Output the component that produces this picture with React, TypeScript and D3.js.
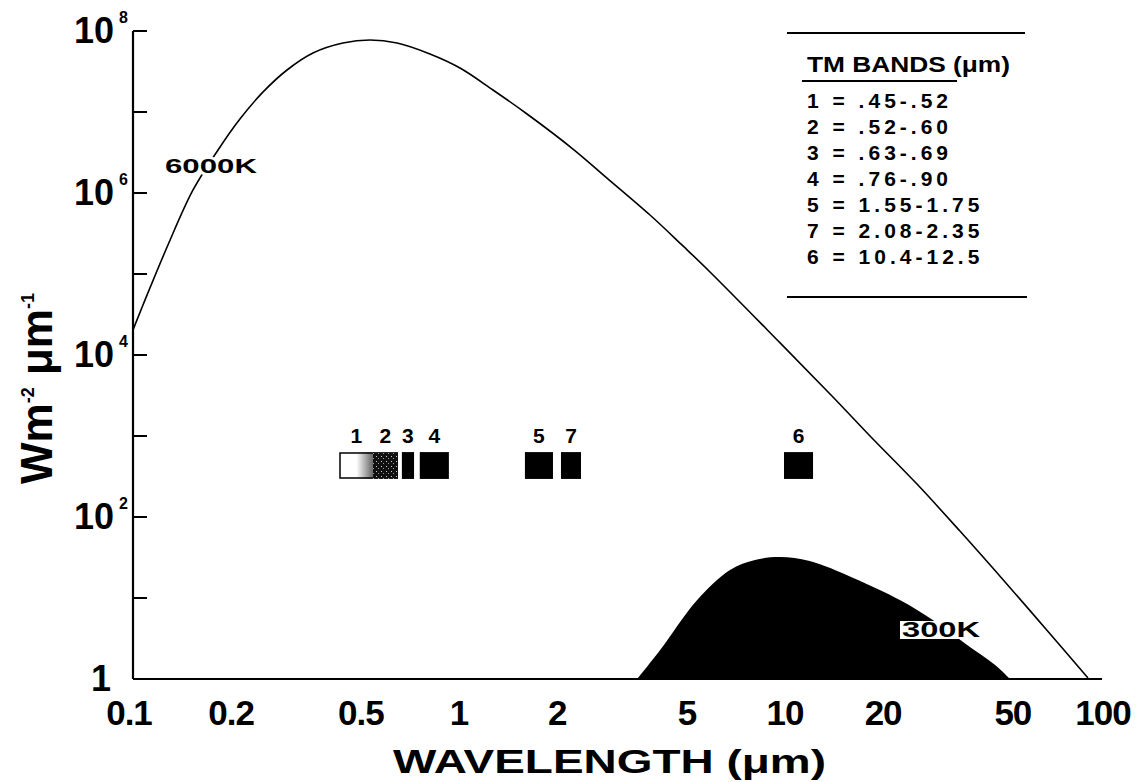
import React, { useEffect, useRef } from 'react'
import * as d3 from 'd3'

// 6000K blackbody curve (wavelength um -> W m-2 um-1)
const sunWavelength = [0.1, 0.1073, 0.128, 0.1528, 0.1823, 0.2128, 0.2507, 0.2968, 0.3565, 0.4405, 0.5333, 0.6457, 0.8146, 1.007, 1.271, 1.617, 2.237, 2.844, 3.854, 4.864, 5.888, 9.66, 14.03, 18.23, 25.4, 34.4, 47.9, 63.6, 85]
const sunRadiance = [2.04e4, 4.14e4, 2.28e5, 1.09e6, 3.4e6, 8.2e6, 1.77e7, 3.3e7, 5.35e7, 7.1e7, 7.74e7, 7.1e7, 5.2e7, 3.49e7, 1.87e7, 9.45e6, 3.49e6, 1.53e6, 5.35e5, 2.22e5, 1.06e5, 1.41e4, 3.03e3, 1.0e3, 255, 67, 14.9, 4.0, 1.03]

// 300K curve (filled)
const earthWavelength = [3.52, 4.14, 5.37, 6.78, 8.09, 9.66, 11.9, 16.2, 22.5, 28.4, 36.2, 44.1, 49]
const earthRadiance = [1, 2.28, 9.4, 22.2, 29.5, 32, 28.6, 17.7, 9.45, 5.35, 2.63, 1.49, 1]

// TM band boxes as drawn
const bandIds = ['1', '2', '3', '4', '5', '7', '6']
const bandFrom = [0.4315, 0.5443, 0.668, 0.758, 1.593, 2.055, 9.93]
const bandTo = [0.5443, 0.65, 0.728, 0.931, 1.942, 2.367, 12.19]
const bandLevel = [295, 633]

// legend
const legendBand = ['1', '2', '3', '4', '5', '7', '6']
const legendRange = ['.45-.52', '.52-.60', '.63-.69', '.76-.90', '1.55-1.75', '2.08-2.35', '10.4-12.5']

// axes
const xTicks = [0.1, 0.2, 0.5, 1, 2, 5, 10, 20, 50, 100]
const xTickText = ['0.1', '0.2', '0.5', '1', '2', '5', '10', '20', '50', '100']
const yTicks = [1, 10, 1e2, 1e3, 1e4, 1e5, 1e6, 1e7, 1e8]
const yLabels = [1, 1e2, 1e4, 1e6, 1e8]
const yLabelExp = ['', '2', '4', '6', '8']

const FONT = '"Liberation Sans", Arial, Helvetica, sans-serif'

export default function App() {
  const ref = useRef<SVGSVGElement>(null)

  useEffect(() => {
    const svg = d3.select(ref.current)
    svg.selectAll('*').remove()

    const x = d3.scaleLog().domain([0.1, 100]).range([133, 1111])
    const y = d3.scaleLog().domain([1, 1e8]).range([679, 31])

    const defs = svg.append('defs')
    const grad = defs.append('linearGradient').attr('id', 'fade')
    grad.append('stop').attr('offset', '0%').attr('stop-color', '#fff')
    grad.append('stop').attr('offset', '50%').attr('stop-color', '#fff')
    grad.append('stop').attr('offset', '100%').attr('stop-color', '#666')
    const pat = defs.append('pattern').attr('id', 'speckle')
      .attr('width', 5).attr('height', 5).attr('patternUnits', 'userSpaceOnUse')
    pat.append('rect').attr('width', 5).attr('height', 5).attr('fill', '#111')
    pat.append('rect').attr('x', 1).attr('y', 1).attr('width', 1).attr('height', 1).attr('fill', '#ccc')
    pat.append('rect').attr('x', 3).attr('y', 3).attr('width', 1).attr('height', 1).attr('fill', '#999')

    const g = svg.append('g')
      .attr('font-family', FONT)
      .attr('font-weight', 'bold')
      .attr('fill', '#000')

    // 300K filled curve
    const earth = earthWavelength.map((w, i) => [w, earthRadiance[i]])
    const area = d3.area<number[]>()
      .x(d => x(d[0]))
      .y0(y(1))
      .y1(d => y(d[1]))
      .curve(d3.curveCatmullRom.alpha(0.5))
    g.append('path').attr('d', area(earth)).attr('fill', '#000')

    // 6000K curve
    const sun = sunWavelength.map((w, i) => [w, sunRadiance[i]])
    const line = d3.line<number[]>()
      .x(d => x(d[0]))
      .y(d => y(d[1]))
      .curve(d3.curveCatmullRom.alpha(0.5))
    g.append('path').attr('d', line(sun))
      .attr('fill', 'none').attr('stroke', '#000').attr('stroke-width', 1.6)

    // axes
    g.append('line').attr('x1', 133).attr('x2', 133).attr('y1', y(1e8)).attr('y2', y(1))
      .attr('stroke', '#000').attr('stroke-width', 2.2)
    g.append('line').attr('x1', 133).attr('x2', 1102).attr('y1', y(1)).attr('y2', y(1))
      .attr('stroke', '#000').attr('stroke-width', 2.2)
    g.selectAll('.ytick').data(yTicks).enter().append('line')
      .attr('x1', 133).attr('x2', 147)
      .attr('y1', d => y(d)).attr('y2', d => y(d))
      .attr('stroke', '#000').attr('stroke-width', 2)

    yLabels.forEach((v, i) => {
      const t = g.append('text')
        .attr('x', yLabelExp[i] ? 128 : 111)
        .attr('y', y(v) + 12)
        .attr('text-anchor', 'end')
        .attr('font-size', 36)
        .text(v === 1 ? '1' : '10')
      if (yLabelExp[i]) {
        t.append('tspan').attr('dx', 5).attr('dy', -20).attr('font-size', 16).text(yLabelExp[i])
      }
    })

    g.selectAll('.xlab').data(xTicks).enter().append('text')
      .attr('x', d => x(d))
      .attr('dx', d => (d === 100 ? -8 : d === 0.1 ? -4 : 0))
      .attr('y', 725)
      .attr('text-anchor', 'middle')
      .attr('font-size', 35)
      .attr('letter-spacing', -1)
      .text((d, i) => xTickText[i])

    // axis titles
    g.append('text')
      .attr('x', 393).attr('y', 773)
      .attr('font-size', 33)
      .attr('textLength', 433).attr('lengthAdjust', 'spacingAndGlyphs')
      .text('WAVELENGTH (μm)')

    const yt = g.append('text')
      .attr('transform', 'translate(52,484) rotate(-90)')
      .attr('font-size', 44)
    yt.append('tspan').text('Wm')
    yt.append('tspan').attr('dy', -18).attr('font-size', 18).text('-2')
    yt.append('tspan').attr('dy', 18).text(' μm')
    yt.append('tspan').attr('dy', -18).attr('font-size', 18).text('-1')

    // TM band boxes
    bandIds.forEach((b, i) => {
      const x0 = x(bandFrom[i])
      const x1 = x(bandTo[i])
      const yTop = y(bandLevel[1])
      const yBot = y(bandLevel[0])
      let fill = '#000'
      if (i === 0) fill = 'url(#fade)'
      if (i === 1) fill = 'url(#speckle)'
      g.append('rect')
        .attr('x', x0).attr('y', yTop)
        .attr('width', x1 - x0).attr('height', yBot - yTop)
        .attr('fill', fill)
      if (i === 0) {
        g.append('path')
          .attr('d', `M${x1},${yTop + 1}H${x0}V${yBot - 1}H${x1}`)
          .attr('fill', 'none').attr('stroke', '#000').attr('stroke-width', 1.5)
      }
      g.append('text')
        .attr('x', (x0 + x1) / 2)
        .attr('y', yTop - 9)
        .attr('text-anchor', 'middle')
        .attr('font-size', 21)
        .text(b)
    })

    // curve labels
    g.append('text')
      .attr('x', 165).attr('y', 173)
      .attr('font-size', 21)
      .attr('textLength', 92).attr('lengthAdjust', 'spacingAndGlyphs')
      .attr('stroke', '#fff').attr('stroke-width', 5).attr('paint-order', 'stroke')
      .text('6000K')
    g.append('rect').attr('x', 900).attr('y', 621).attr('width', 82).attr('height', 18).attr('fill', '#fff')
    g.append('text')
      .attr('x', 902).attr('y', 637)
      .attr('font-size', 22)
      .attr('textLength', 78).attr('lengthAdjust', 'spacingAndGlyphs')
      .text('300K')

    // legend
    g.append('line').attr('x1', 787).attr('x2', 1025).attr('y1', 33).attr('y2', 33)
      .attr('stroke', '#000').attr('stroke-width', 2)
    g.append('text')
      .attr('x', 807).attr('y', 72)
      .attr('font-size', 22)
      .attr('textLength', 203).attr('lengthAdjust', 'spacingAndGlyphs')
      .text('TM BANDS (μm)')
    g.append('line').attr('x1', 802).attr('x2', 957).attr('y1', 81).attr('y2', 81)
      .attr('stroke', '#000').attr('stroke-width', 2)
    legendBand.forEach((b, i) => {
      g.append('text')
        .attr('x', 807).attr('y', 108 + i * 26)
        .attr('font-size', 21)
        .attr('letter-spacing', 4)
        .text(`${b} = ${legendRange[i]}`)
    })
    g.append('line').attr('x1', 787).attr('x2', 1027).attr('y1', 297).attr('y2', 297)
      .attr('stroke', '#000').attr('stroke-width', 2)
  }, [])

  return (
    <svg ref={ref} width={1137} height={782}
      style={{ position: 'absolute', left: 0, top: 0, background: '#fff' }} />
  )
}
